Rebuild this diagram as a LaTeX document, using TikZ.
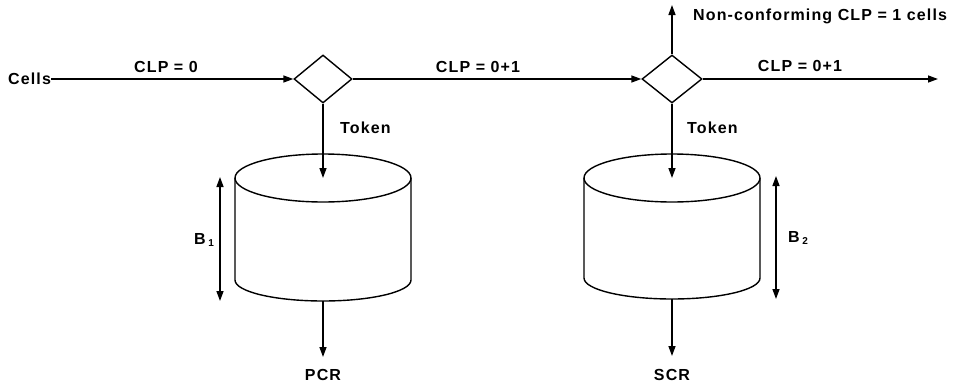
\documentclass[tikz,border=0pt]{standalone}
\usepackage{fontspec}
\setmainfont{Liberation Sans}[LetterSpace=7]
\usetikzlibrary{arrows.meta,shapes.geometric}
\begin{document}
\begin{tikzpicture}[x=1pt,y=-1pt,
  lw/.style={line width=1.4pt},
  arr/.style={lw,-{Triangle[length=10pt,width=7pt]}},
  darr/.style={lw,{Triangle[length=10pt,width=7pt]}-{Triangle[length=10pt,width=7pt]}},
  lbl/.style={font=\fontsize{16}{18}\selectfont\bfseries,inner sep=0pt},
  gate/.style={diamond,draw,lw,minimum width=58pt,minimum height=48pt,inner sep=0pt,aspect=1.2}]
\useasboundingbox (0,0) rectangle (958,383);
% texts
\node[lbl,anchor=west] (cells) at (8,79) {Cells};
\node[gate] (g1) at (323,79) {};
\node[gate,minimum width=60pt] (g2) at (672,79) {};
\coordinate (out) at (938,79);
\coordinate (up) at (672,5);
\node[lbl] at (166,67) {CLP = 0};
\node[lbl] at (478,67) {CLP = 0+1};
\node[lbl] at (800,66) {CLP = 0+1};
\node[lbl,anchor=west] at (693,16) {Non-conforming CLP = 1 cells};
\node[lbl,anchor=west] at (340,128) {Token};
\node[lbl,anchor=west] at (687,128) {Token};
% main flow
\draw[arr] (cells.east) -- (g1.west);
\draw[arr] (g1.east) -- (g2.west);
\draw[arr] (g2.east) -- (out);
\draw[arr] (g2.north) -- (up);
% cylinder 1
\coordinate (c1t) at (323,178);
\coordinate (c1b) at (323,301);
\draw[lw] (c1t) ellipse [x radius=88, y radius=24];
\draw[lw] (235,178) -- (235,280) arc[start angle=180,end angle=0,x radius=88,y radius=21] -- (411,178);
\draw[arr] (g1.south) -- (c1t);
\coordinate (pcr1) at (323,357);
\draw[arr] (c1b) -- (pcr1);
\node[lbl] (pcr) at (323,375) {PCR};
\coordinate (b1a) at (220,177);
\coordinate (b1b) at (220,301);
\draw[darr] (b1a) -- (b1b);
\node[lbl] at (204,240) {B\,\raisebox{-0.35ex}{\fontsize{10}{12}\selectfont 1}};
% cylinder 2
\coordinate (c2t) at (672,178);
\coordinate (c2b) at (672,299);
\draw[lw] (c2t) ellipse [x radius=88, y radius=24];
\draw[lw] (584,178) -- (584,278) arc[start angle=180,end angle=0,x radius=88,y radius=21] -- (760,178);
\draw[arr] (g2.south) -- (c2t);
\coordinate (scr1) at (672,356);
\draw[arr] (c2b) -- (scr1);
\node[lbl] (scr) at (672,375) {SCR};
\coordinate (b2a) at (776,176);
\coordinate (b2b) at (776,299);
\draw[darr] (b2a) -- (b2b);
\node[lbl] at (798,238) {B\,\raisebox{-0.35ex}{\fontsize{10}{12}\selectfont 2}};
\end{tikzpicture}
\end{document}
